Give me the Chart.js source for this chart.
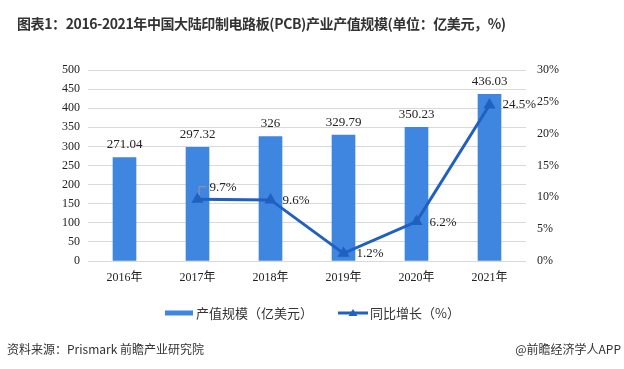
<!DOCTYPE html>
<html>
<head>
<meta charset="utf-8">
<script src="https://cdn.jsdelivr.net/npm/chart.js@4/dist/chart.umd.min.js"></script>
<style>
  body { margin: 0; background: #fff; }
  #wrap { position: relative; width: 624px; height: 369px; overflow: hidden; }
  #title { position: absolute; left: 17px; top: 13px; font: bold 14px "Noto Sans CJK SC", sans-serif; letter-spacing: -0.4px; color: #333; white-space: nowrap; }
  #source { position: absolute; left: 7px; top: 340px; font: 12px "Noto Sans CJK SC", sans-serif; color: #333; }
  #brand { position: absolute; right: 3px; top: 340px; font: 12px "Noto Sans CJK SC", sans-serif; color: #333; }
  canvas { position: absolute; left: 0; top: 0; }
</style>
</head>
<body>
<div id="wrap">
  <canvas id="pcbChart" width="624" height="369"></canvas>
  <div id="title">图表1：2016-2021年中国大陆印制电路板(PCB)产业产值规模(单位：亿美元，%)</div>
  <div id="source">资料来源：Prismark 前瞻产业研究院</div>
  <div id="brand">@前瞻经济学人APP</div>
</div>
<script>
// chart data
const years = ['2016年', '2017年', '2018年', '2019年', '2020年', '2021年'];
const outputValue = [271.04, 297.32, 326, 329.79, 350.23, 436.03];
const growthRate = [null, 9.7, 9.6, 1.2, 6.2, 24.5];
const outputLabel = '产值规模（亿美元）';
const growthLabel = '同比增长（%）';

const barColor = '#3f86e0';
const lineColor = '#1f60c0';
const serif = '"Liberation Serif", "Times New Roman", "Noto Sans CJK SC", serif';

// value labels above bars and beside line points
const valueLabels = {
    id: 'valueLabels',
    afterDatasetsDraw(chart) {
        const ctx = chart.ctx;
        ctx.save();
        ctx.font = '13px ' + serif;
        ctx.fillStyle = '#222';

        const bars = chart.getDatasetMeta(0).data;
        ctx.textAlign = 'center';
        ctx.textBaseline = 'bottom';
        bars.forEach((bar, i) => {
            ctx.fillText(String(outputValue[i]), bar.x, bar.y - 6);
        });

        const pts = chart.getDatasetMeta(1).data;
        ctx.textAlign = 'left';
        ctx.textBaseline = 'middle';
        const offsets = [null, [12, -12], [12, 1], [13, 0], [13, 1], [13, 0]];
        pts.forEach((p, i) => {
            if (growthRate[i] == null) return;
            ctx.fillText(growthRate[i] + '%', p.x + offsets[i][0], p.y + offsets[i][1]);
        });

        // leader line for the 2017 label
        const p1 = pts[1];
        ctx.strokeStyle = '#999';
        ctx.lineWidth = 1;
        ctx.beginPath();
        ctx.moveTo(p1.x + 1.5, p1.y - 4);
        ctx.lineTo(p1.x + 1.5, p1.y - 12.5);
        ctx.lineTo(p1.x + 9, p1.y - 12.5);
        ctx.stroke();
        ctx.restore();
    }
};

// legend drawn by hand so the line entry keeps its triangle
const customLegend = {
    id: 'customLegend',
    afterDraw(chart) {
        const ctx = chart.ctx;
        const y = 313;
        ctx.save();
        ctx.font = '13px "Noto Sans CJK SC", sans-serif';
        ctx.fillStyle = barColor;
        ctx.fillRect(165, y - 2.5, 28, 5);
        ctx.fillStyle = '#333';
        ctx.textBaseline = 'middle';
        ctx.fillText(outputLabel, 196, y);

        ctx.strokeStyle = lineColor;
        ctx.lineWidth = 3;
        ctx.beginPath();
        ctx.moveTo(338, y);
        ctx.lineTo(368, y);
        ctx.stroke();
        ctx.fillStyle = lineColor;
        ctx.beginPath();
        ctx.moveTo(353, y - 4);
        ctx.lineTo(357.5, y + 3);
        ctx.lineTo(348.5, y + 3);
        ctx.closePath();
        ctx.fill();
        ctx.fillStyle = '#333';
        ctx.fillText(growthLabel, 370, y);
        ctx.restore();
    }
};

const chart = new Chart(document.getElementById('pcbChart').getContext('2d'), {
    type: 'bar',
    data: {
        labels: years,
        datasets: [
            {
                type: 'bar',
                label: outputLabel,
                data: outputValue,
                backgroundColor: barColor,
                barThickness: 23,
                yAxisID: 'y',
                order: 2
            },
            {
                type: 'line',
                label: growthLabel,
                data: growthRate,
                borderColor: lineColor,
                backgroundColor: lineColor,
                borderWidth: 3,
                pointStyle: 'triangle',
                pointRadius: 4,
                pointBackgroundColor: lineColor,
                pointBorderColor: lineColor,
                tension: 0,
                yAxisID: 'y1',
                order: 1
            }
        ]
    },
    options: {
        responsive: false,
        animation: false,
        layout: { padding: { top: 70, bottom: 78, left: 0, right: 0 } },
        plugins: {
            legend: { display: false },
            tooltip: { enabled: false }
        },
        scales: {
            x: {
                grid: { display: false, drawTicks: false },
                border: { display: false },
                ticks: { color: '#222', font: { family: serif, size: 12 }, padding: 10 },
                afterFit: (s) => { s.height = 30; }
            },
            y: {
                position: 'left',
                min: 0,
                max: 500,
                grid: { color: '#d9d9d9', drawTicks: false },
                border: { display: false },
                ticks: { stepSize: 50, color: '#222', font: { family: serif, size: 12 }, padding: 8 },
                afterFit: (s) => { s.width = 88; }
            },
            y1: {
                position: 'right',
                min: 0,
                max: 30,
                grid: { display: false, drawTicks: false },
                border: { display: false },
                ticks: {
                    stepSize: 5,
                    color: '#222',
                    font: { family: serif, size: 12 },
                    padding: 11,
                    callback: (v) => v + '%'
                },
                afterFit: (s) => { s.width = 98; }
            }
        }
    },
    plugins: [valueLabels, customLegend]
});
</script>
</body>
</html>
